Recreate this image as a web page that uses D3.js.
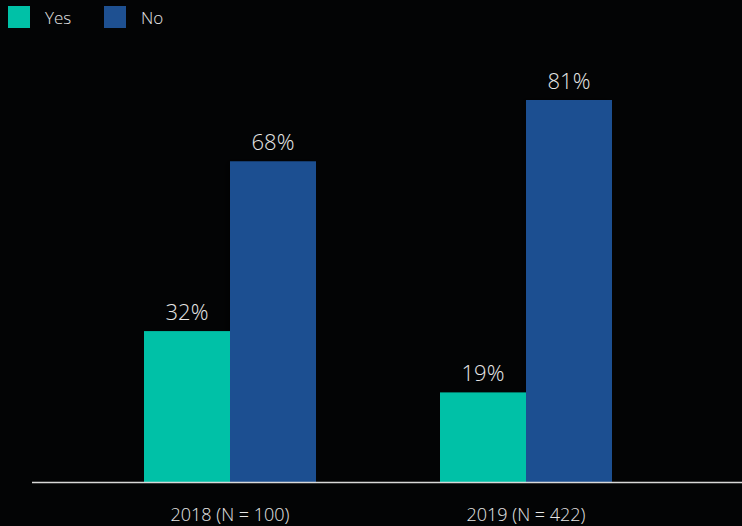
<!DOCTYPE html>
<html>
<head>
<meta charset="utf-8">
<script src="https://cdn.jsdelivr.net/npm/d3@7"></script>
<style>
  html, body { margin: 0; padding: 0; background: #030405; }
  svg { display: block; }
</style>
</head>
<body>
<script>
const width = 742;
const height = 526;

const years = ["2018 (N = 100)", "2019 (N = 422)"];
const seriesNames = ["Yes", "No"];
const yesValues = [32, 19];
const noValues = [68, 81];

const colors = { Yes: "#00c1a7", No: "#1e5091" };
const font = "'Open Sans', 'Noto Sans', sans-serif";

const svg = d3
  .select("body")
  .append("svg")
  .attr("width", width)
  .attr("height", height);

// soft shadow on the left edge of the "No" bars
const defs = svg.append("defs");
const filter = defs.append("filter").attr("id", "shadow").attr("x", "-20%").attr("width", "140%");
filter
  .append("feDropShadow")
  .attr("dx", -3)
  .attr("dy", 0)
  .attr("stdDeviation", 3)
  .attr("flood-color", "#000")
  .attr("flood-opacity", 0.5);

const x0 = d3.scaleBand().domain(years).range([82, 674]);
const x1 = d3.scaleBand().domain(seriesNames).range([62, 234]);
const y = d3.scaleLinear().domain([0, 100]).range([482, 10.4]);

const rows = years.map((yr, i) => ({ year: yr, Yes: yesValues[i], No: noValues[i] }));

const groups = svg
  .selectAll("g.group")
  .data(rows)
  .enter()
  .append("g")
  .attr("class", "group")
  .attr("transform", (d) => `translate(${x0(d.year)},0)`);

groups
  .selectAll("rect")
  .data((d) => seriesNames.map((s) => ({ key: s, value: d[s] })).reverse())
  .enter()
  .append("rect")
  .attr("x", (d) => x1(d.key))
  .attr("y", (d) => y(d.value))
  .attr("width", x1.bandwidth())
  .attr("height", (d) => y(0) - y(d.value))
  .attr("fill", (d) => colors[d.key])
  .attr("filter", (d) => (d.key === "No" ? "url(#shadow)" : null));

groups
  .selectAll("text.val")
  .data((d) => seriesNames.map((s) => ({ key: s, value: d[s] })))
  .enter()
  .append("text")
  .attr("class", "val")
  .attr("x", (d) => x1(d.key) + x1.bandwidth() / 2)
  .attr("y", (d) => y(d.value) - 11)
  .attr("text-anchor", "middle")
  .attr("font-family", font)
  .attr("font-weight", 300)
  .attr("font-size", 22)
  .attr("fill", "#e6e6e6")
  .text((d) => d.value + "%");

// baseline
svg
  .append("line")
  .attr("x1", 32)
  .attr("x2", width)
  .attr("y1", y(0) + 0.5)
  .attr("y2", y(0) + 0.5)
  .attr("stroke", "#d9d9d9")
  .attr("stroke-width", 1.5);

// category labels
const xAxis = svg
  .append("g")
  .attr("transform", `translate(0,${y(0)})`)
  .call(d3.axisBottom(x0).tickSize(0).tickPadding(0));
xAxis.select(".domain").remove();
xAxis
  .selectAll("text")
  .attr("y", 39)
  .attr("dy", 0)
  .attr("font-family", font)
  .attr("font-weight", 300)
  .attr("font-size", 18)
  .attr("fill", "#e6e6e6");

// legend
const legend = svg
  .append("g")
  .selectAll("g")
  .data(seriesNames)
  .enter()
  .append("g")
  .attr("transform", (d, i) => `translate(${8 + i * 96},6)`);

legend
  .append("rect")
  .attr("width", 22)
  .attr("height", 22)
  .attr("fill", (d) => colors[d]);

legend
  .append("text")
  .attr("x", 37)
  .attr("y", 18)
  .attr("font-family", font)
  .attr("font-weight", 300)
  .attr("font-size", 17)
  .attr("fill", "#e6e6e6")
  .text((d) => d);
</script>
</body>
</html>
